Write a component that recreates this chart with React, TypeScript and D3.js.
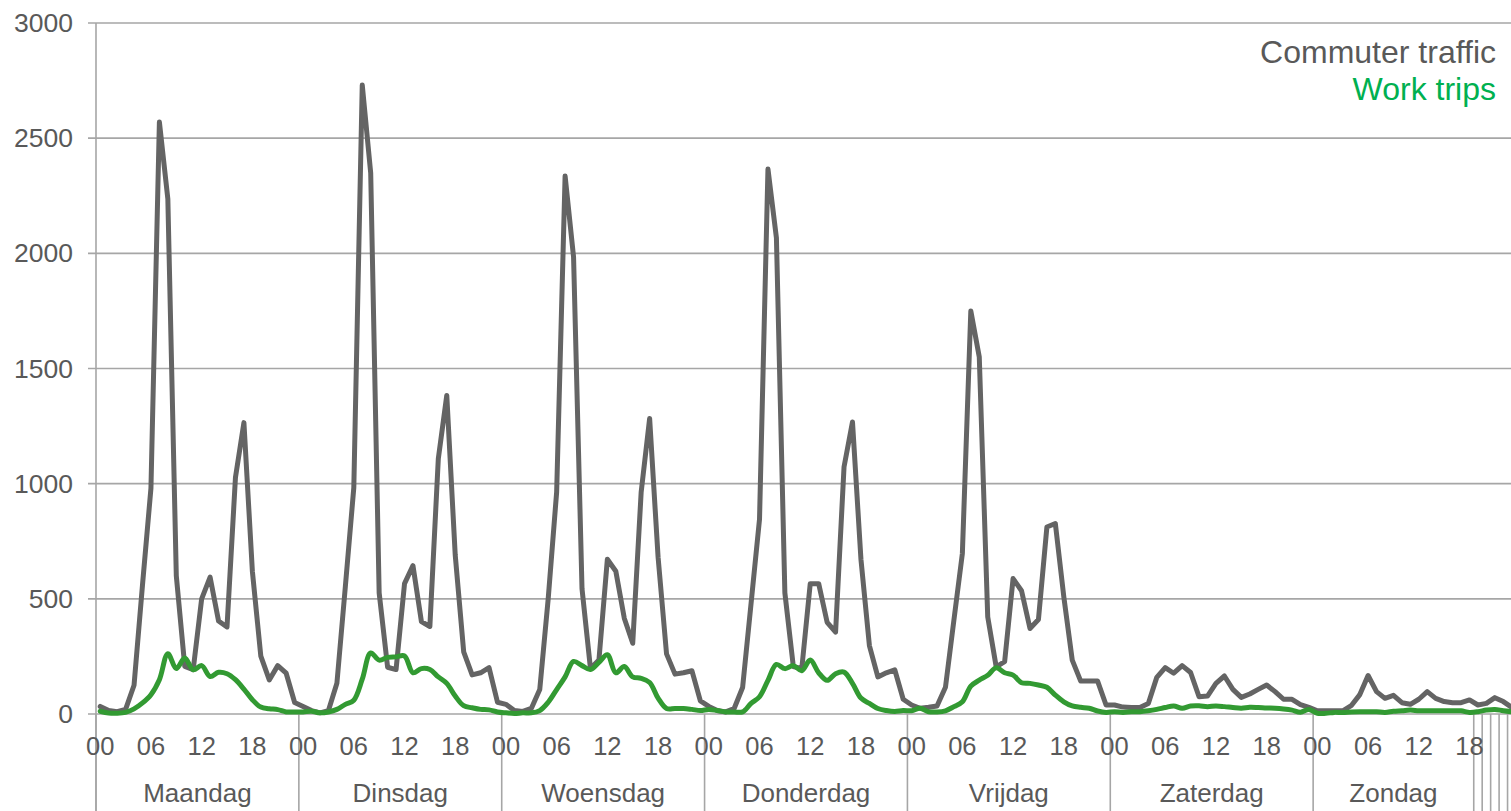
import React from 'react';
import * as d3 from 'd3';

// ---- data ----
const hours = ['00','01','02','03','04','05','06','07','08','09','10','11','12','13','14','15','16','17','18','19','20','21','22','23'];
const groupLabels = ['Maandag','Dinsdag','Woensdag','Donderdag','Vrijdag','Zaterdag','Zondag','','','','',''];
const groupSizes = [24,24,24,24,24,24,19,1,1,1,1,1];
const yTicks = [0,500,1000,1500,2000,2500,3000];
const seriesNames = ['Commuter traffic','Work trips'];

const commuterMon = [33,15,10,20,125,560,980,2570,2236,600,207,193,500,594,404,378,1027,1265,620,251,148,210,177,50];
const commuterTue = [33,15,5,15,133,553,982,2731,2349,526,203,193,566,644,401,380,1109,1383,690,270,170,179,201,51];
const commuterWed = [42,15,11,24,106,500,964,2336,1984,544,197,234,672,620,416,307,964,1283,681,261,173,179,188,57];
const commuterThu = [33,15,9,24,115,480,845,2366,2067,526,206,197,566,566,398,356,1073,1268,672,297,161,179,192,64];
const commuterFri = [39,25,29,35,116,408,697,1750,1550,422,205,227,588,535,371,410,812,827,509,234,143,143,143,39];
const commuterSat = [39,30,28,28,46,159,201,177,210,180,75,78,133,165,107,72,87,107,126,97,64,64,41,29];
const commuterSun = [14,14,14,14,36,83,167,97,68,81,49,42,64,97,68,54,49,49,61,39,46,71,54,29];

const workMon = [12,4,3,7,22,48,84,149,262,197,243,192,210,163,181,175,149,108,62,30,23,19,9,9];
const workTue = [9,12,5,9,20,42,60,151,265,234,246,248,252,179,197,193,161,133,78,36,27,20,18,9];
const workWed = [5,2,5,5,15,51,106,161,228,210,193,224,257,179,206,161,155,137,69,24,24,24,20,15];
const workThu = [20,15,9,9,9,46,75,146,215,197,210,188,234,179,146,175,182,133,69,46,24,15,11,15];
const workFri = [14,25,10,9,14,32,53,121,147,168,201,179,169,136,133,126,116,82,53,35,29,25,13,7];
const workSat = [10,7,10,10,14,20,28,35,25,35,36,32,35,32,28,25,29,28,26,25,22,17,8,20];
const workSun = [3,3,7,6,9,10,10,10,7,12,14,17,14,14,14,14,14,14,7,10,17,20,14,10];

const commuter = [...commuterMon,...commuterTue,...commuterWed,...commuterThu,...commuterFri,...commuterSat,...commuterSun];
const work = [...workMon,...workTue,...workWed,...workThu,...workFri,...workSat,...workSun];

// ---- layout ----
const W = 1511, H = 811;
const left = 96, right = 1516, top = 23, bottom = 714;
const font = '"Liberation Sans", Arial, Helvetica, sans-serif';
const textColor = '#595959';
const gridColor = '#A6A6A6';
const grayLine = '#646464';
const greenLine = '#329A32';
const greenText = '#00B050';

export default function App() {
  const n = commuter.length;
  const xBand = d3.scaleBand<number>().domain(d3.range(n)).range([left, right]).padding(0);
  const bw = xBand.bandwidth();
  const cx = (i: number) => (xBand(i) as number) + bw / 2;
  const y = d3.scaleLinear().domain([0, 3000]).range([bottom, top]);

  const grayPath = d3.line<number>().x((_, i) => cx(i)).y(d => y(d))(commuter) || '';
  const greenPath = d3.line<number>().x((_, i) => cx(i)).y(d => y(d)).curve(d3.curveCatmullRom.alpha(0.5))(work) || '';

  const starts: number[] = [];
  let acc = 0;
  groupSizes.forEach(s => { starts.push(acc); acc += s; });

  return (
    <svg width={W} height={H} style={{ position: 'absolute', left: 0, top: 0, background: '#fff' }} fontFamily={font}>
      {yTicks.map(t => (
        <g key={t}>
          <line x1={88} x2={right} y1={y(t)} y2={y(t)} stroke={gridColor} strokeWidth={1.6} />
          <text x={73} y={y(t) + 9} textAnchor="end" fontSize={26.5} fill={textColor}>{t}</text>
        </g>
      ))}
      <line x1={left} x2={left} y1={top} y2={H} stroke={gridColor} strokeWidth={1.6} />
      {starts.map((s, k) => (
        <line key={'b' + k} x1={left + s * bw} x2={left + s * bw} y1={bottom} y2={H} stroke={gridColor} strokeWidth={1.6} />
      ))}
      {d3.range(n).filter(i => Number(hours[i % 24]) % 6 === 0).map(i => (
        <text key={'h' + i} x={cx(i)} y={755} textAnchor="middle" fontSize={25.5} fill={textColor}>{hours[i % 24]}</text>
      ))}
      {groupLabels.map((g, k) => g ? (
        <text key={'g' + k} x={left + (starts[k] + groupSizes[k] / 2) * bw} y={802} textAnchor="middle" fontSize={26} fill={textColor}>{g}</text>
      ) : null)}
      <path d={grayPath} fill="none" stroke={grayLine} strokeWidth={5} strokeLinejoin="round" strokeLinecap="round" />
      <path d={greenPath} fill="none" stroke={greenLine} strokeWidth={5} strokeLinejoin="round" strokeLinecap="round" />
      <text x={1496} y={63} textAnchor="end" fontSize={32} fill={textColor}>{seriesNames[0]}</text>
      <text x={1496} y={100} textAnchor="end" fontSize={32} fill={greenText}>{seriesNames[1]}</text>
    </svg>
  );
}
